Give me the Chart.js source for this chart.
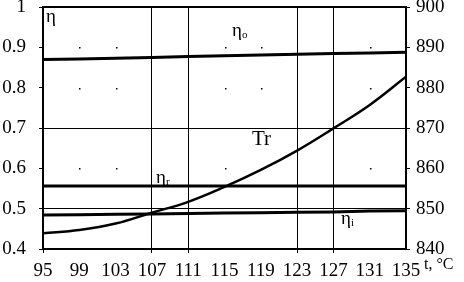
<!DOCTYPE html>
<html>
<head>
<meta charset="utf-8">
<script src="https://cdn.jsdelivr.net/npm/chart.js@4"></script>
<style>
  html, body { margin: 0; padding: 0; background: #fff; }
  #wrap { width: 464px; height: 282px; }
</style>
</head>
<body>
<div id="wrap"><canvas id="chart" width="464" height="282"></canvas></div>
<script>
// temperature t, °C
const temps = [95, 99, 103, 107, 111, 115, 119, 123, 127, 131, 135];
// efficiencies (left axis)
const etaO = [0.870, 0.871, 0.873, 0.875, 0.877, 0.879, 0.881, 0.883, 0.885, 0.886, 0.888];
const etaR = [0.556, 0.556, 0.556, 0.556, 0.556, 0.556, 0.556, 0.556, 0.556, 0.556, 0.556];
const etaI = [0.484, 0.485, 0.486, 0.487, 0.488, 0.489, 0.490, 0.491, 0.492, 0.494, 0.495];
// Tr (right axis)
const tr = [843.9, 844.7, 846.3, 849.0, 851.7, 855.4, 859.6, 864.4, 869.9, 875.7, 882.7];

const solidX = [107, 111, 123, 127];
const solidY = [0.5, 0.7];

const serif = '"Liberation Serif", "DejaVu Serif", serif';

function pts(ys) {
    return temps.map((t, i) => ({ x: t, y: ys[i] }));
}

function line(data, axis, width, tension) {
    return {
        data: pts(data),
        yAxisID: axis,
        borderColor: '#000',
        borderWidth: width,
        pointRadius: 0,
        tension: tension,
        fill: false
    };
}

// keep the plot area fixed, no extra room for half labels
function fitV(width) {
    return s => {
        s.width = width;
        s.paddingTop = 0;
        s.paddingBottom = 0;
    };
}

const extras = {
    id: 'extras',
    afterDraw(chart) {
        const ctx = chart.ctx;
        const area = chart.chartArea;
        const xs = chart.scales.x;
        const ys = chart.scales.y;
        ctx.save();
        // dots at the non-drawn grid intersections
        ctx.fillStyle = '#000';
        xs.ticks.forEach(t => {
            if (solidX.includes(t.value) || t.value === 95 || t.value === 135) return;
            ys.ticks.forEach(u => {
                const v = Math.round(u.value * 10) / 10;
                if (solidY.includes(v) || v === 0.4 || v === 1) return;
                ctx.fillRect(Math.round(xs.getPixelForValue(t.value)), Math.round(ys.getPixelForValue(v)), 1.5, 1.5);
            });
        });
        // top frame
        ctx.strokeStyle = '#000';
        ctx.lineWidth = 2;
        ctx.beginPath();
        ctx.moveTo(area.left - 1, area.top);
        ctx.lineTo(area.right + 1, area.top);
        ctx.stroke();

        ctx.textBaseline = 'alphabetic';
        ctx.textAlign = 'left';
        const label = (main, sub, x, y) => {
            ctx.font = '19px ' + serif;
            ctx.fillText(main, x, y);
            if (sub) {
                const w = ctx.measureText(main).width;
                ctx.font = '11px ' + serif;
                ctx.fillText(sub, x + w, y + 2);
            }
        };
        label('η', '', 46, 22);
        label('η', 'o', 232, 36);
        label('η', 'r', 156, 183);
        label('η', 'i', 341, 224);
        ctx.font = '21px ' + serif;
        ctx.fillText('Tr', 252, 145);
        ctx.font = '16px ' + serif;
        ctx.fillText('t, °C', 424, 269);
        ctx.restore();
    }
};

new Chart(document.getElementById('chart'), {
    type: 'line',
    data: {
        datasets: [
            line(etaO, 'y', 3, 0),
            line(etaR, 'y', 3, 0),
            line(etaI, 'y', 3, 0),
            line(tr, 'y2', 2.5, 0.4)
        ]
    },
    plugins: [extras],
    options: {
        responsive: false,
        animation: false,
        events: [],
        layout: { padding: { top: 7, left: 0, right: 0, bottom: 0 } },
        plugins: { legend: { display: false }, tooltip: { enabled: false } },
        scales: {
            x: {
                type: 'linear',
                min: 95,
                max: 135,
                afterFit: s => { s.height = 33; s.paddingLeft = 0; s.paddingRight = 0; },
                ticks: {
                    stepSize: 4,
                    color: '#000',
                    padding: 7,
                    font: { family: serif, size: 19 },
                    maxRotation: 0
                },
                grid: {
                    color: c => solidX.includes(c.tick.value) ? '#000' : 'rgba(0,0,0,0)',
                    lineWidth: 1,
                    tickColor: c => solidX.includes(c.tick.value) || c.tick.value === 95 ? '#000' : 'rgba(0,0,0,0)',
                    tickLength: 4
                },
                border: { color: '#000', width: 2 }
            },
            y: {
                position: 'left',
                min: 0.4,
                max: 1,
                afterFit: fitV(43),
                ticks: {
                    stepSize: 0.1,
                    color: '#000',
                    padding: 13,
                    font: { family: serif, size: 19 },
                    callback: v => (Math.abs(v - 1) < 1e-9 ? '1' : v.toFixed(1))
                },
                grid: {
                    color: c => solidY.includes(Math.round(c.tick.value * 10) / 10) ? '#000' : 'rgba(0,0,0,0)',
                    lineWidth: 1,
                    tickColor: '#000',
                    tickLength: 4
                },
                border: { color: '#000', width: 2 }
            },
            y2: {
                position: 'right',
                min: 840,
                max: 900,
                afterFit: fitV(58),
                ticks: {
                    stepSize: 10,
                    color: '#000',
                    padding: 6,
                    font: { family: serif, size: 19 }
                },
                grid: {
                    drawOnChartArea: false,
                    tickColor: '#000',
                    tickLength: 4
                },
                border: { color: '#000', width: 2 }
            }
        }
    }
});
</script>
</body>
</html>
